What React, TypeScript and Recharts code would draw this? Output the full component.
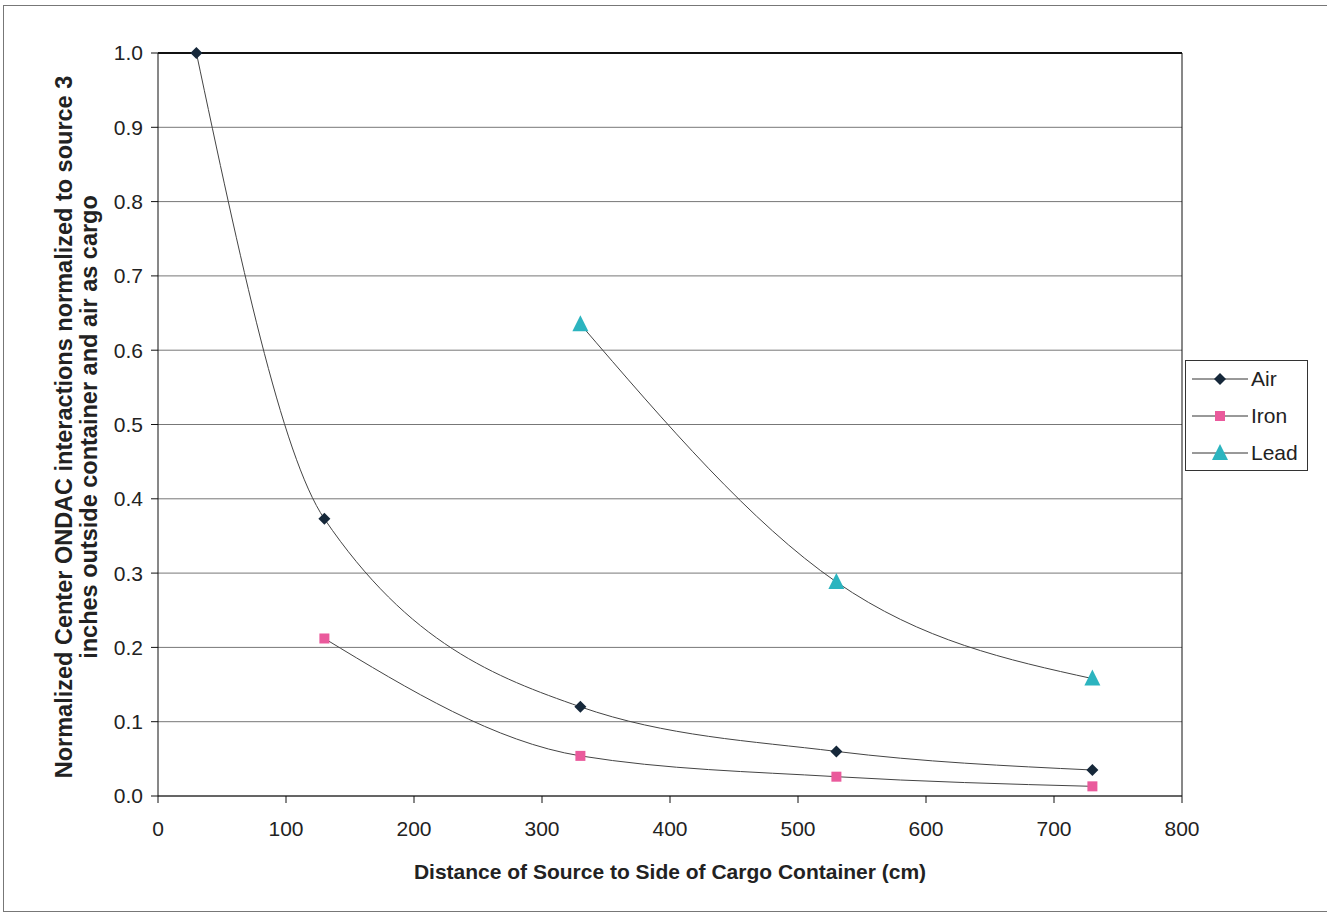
import React from 'react';
import {LineChart, Line, XAxis, YAxis, CartesianGrid, ReferenceLine, Label} from 'recharts';

const airX = [30, 130, 330, 530, 730];
const airY = [1.0, 0.373, 0.12, 0.06, 0.035];
const ironX = [130, 330, 530, 730];
const ironY = [0.212, 0.054, 0.026, 0.013];
const leadX = [330, 530, 730];
const leadY = [0.635, 0.288, 0.158];
const xTicks = [0, 100, 200, 300, 400, 500, 600, 700, 800];
const yTicks = [0, 0.1, 0.2, 0.3, 0.4, 0.5, 0.6, 0.7, 0.8, 0.9, 1.0];

const toRows = (xs: number[], ys: number[]) => xs.map((x, i) => ({x, y: ys[i]}));
const air = toRows(airX, airY);
const iron = toRows(ironX, ironY);
const lead = toRows(leadX, leadY);

const font = '"Liberation Sans", Arial, sans-serif';

const Diamond = (p: any) => {
  const {cx, cy} = p;
  if (cx == null) return null;
  return <polygon key={`d${cx}`} points={`${cx},${cy - 6} ${cx + 6},${cy} ${cx},${cy + 6} ${cx - 6},${cy}`} fill="#16283a" />;
};
const Square = (p: any) => {
  const {cx, cy} = p;
  if (cx == null) return null;
  return <rect key={`s${cx}`} x={cx - 5} y={cy - 5} width={10} height={10} fill="#ea5a9c" />;
};
const Triangle = (p: any) => {
  const {cx, cy} = p;
  if (cx == null) return null;
  return <polygon key={`t${cx}`} points={`${cx},${cy - 9} ${cx + 8},${cy + 7} ${cx - 8},${cy + 7}`} fill="#2cb4bf" />;
};

const YTitle = () => {
  const cx = 72;
  const cy = 427;
  return (
    <text transform={`rotate(-90 ${cx} ${cy})`} x={cx} y={cy} textAnchor="middle"
      style={{fontFamily: font, fontSize: 23.5, fontWeight: 'bold', fill: '#222'}}>
      <tspan x={cx} dy={0}>Normalized Center ONDAC interactions normalized to source 3</tspan>
      <tspan x={cx} dy={25}>inches outside container and air as cargo</tspan>
    </text>
  );
};

const legendItems = [
  {name: 'Air', dot: 'd'},
  {name: 'Iron', dot: 's'},
  {name: 'Lead', dot: 't'},
];

const LegendBox = () => (
  <div style={{position: 'absolute', left: 1185, top: 360, width: 121, height: 109, border: '1px solid #333', background: '#fff'}}>
    <svg width={121} height={109}>
      {legendItems.map((it, i) => {
        const y = 18 + i * 37;
        return (
          <g key={it.name}>
            <line x1={6} x2={62} y1={y} y2={y} stroke="#333" strokeWidth={1} />
            {it.dot === 'd' && <Diamond cx={34} cy={y} />}
            {it.dot === 's' && <Square cx={34} cy={y} />}
            {it.dot === 't' && <Triangle cx={34} cy={y} />}
            <text x={65} y={y + 7} style={{fontFamily: font, fontSize: 21, fill: '#222'}}>{it.name}</text>
          </g>
        );
      })}
    </svg>
  </div>
);

export default function App() {
  return (
    <div style={{position: 'absolute', left: 0, top: 0, width: 1327, height: 916, background: '#fff'}}>
      <div style={{position: 'absolute', left: 3, top: 5, width: 1330, height: 905, border: '1px solid #777'}} />
      <LineChart width={1327} height={916} margin={{top: 53, right: 145, bottom: 90, left: 98}}
        style={{position: 'absolute', left: 0, top: 0}}>
        <CartesianGrid vertical={false} stroke="#777" strokeWidth={1} />
        <XAxis dataKey="x" type="number" domain={[0, 800]} ticks={xTicks} allowDuplicatedCategory={false}
          stroke="#111" tickSize={7} tickMargin={18} height={30}
          tick={{fontFamily: font, fontSize: 21, fill: '#222'}}>
          <Label value="Distance of Source to Side of Cargo Container (cm)" position="bottom" offset={38}
            style={{fontFamily: font, fontSize: 21, fontWeight: 'bold', fill: '#222'}} />
        </XAxis>
        <YAxis dataKey="y" type="number" domain={[0, 1]} ticks={yTicks} width={60}
          stroke="#111" tickSize={7} tickMargin={8}
          tickFormatter={(v: number) => v.toFixed(1)}
          tick={{fontFamily: font, fontSize: 21, fill: '#222'}}>
          <Label content={<YTitle />} />
        </YAxis>
        <ReferenceLine y={1} stroke="#111" strokeWidth={2} />
        <ReferenceLine x={800} stroke="#111" strokeWidth={1} />
        <Line data={air} dataKey="y" type="monotone" stroke="#444" strokeWidth={1} dot={<Diamond />} activeDot={false} isAnimationActive={false} />
        <Line data={iron} dataKey="y" type="monotone" stroke="#444" strokeWidth={1} dot={<Square />} activeDot={false} isAnimationActive={false} />
        <Line data={lead} dataKey="y" type="monotone" stroke="#444" strokeWidth={1} dot={<Triangle />} activeDot={false} isAnimationActive={false} />
      </LineChart>
      <LegendBox />
    </div>
  );
}
